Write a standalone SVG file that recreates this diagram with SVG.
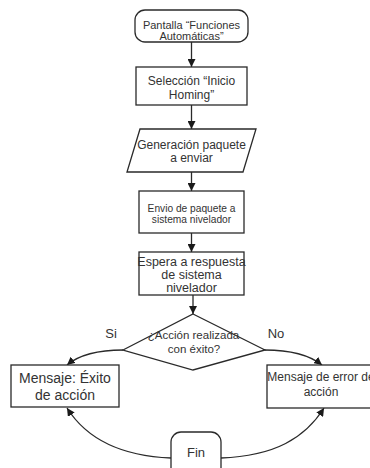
<svg xmlns="http://www.w3.org/2000/svg" width="370" height="468" viewBox="0 0 370 468">
<style>
.n{fill:#fff;stroke:#2a2a2a;stroke-width:1.3}
.t{font-family:"Liberation Sans",Arial,sans-serif;fill:#333;text-anchor:middle}
.c{fill:none;stroke:#2a2a2a;stroke-width:1.3}
</style>
<defs>
<marker id="ah" viewBox="0 0 10 10" refX="10" refY="5" markerWidth="8" markerHeight="8" markerUnits="userSpaceOnUse" orient="auto">
<path d="M0,0 L10,5 L0,10 z" fill="#1a1a1a"/>
</marker>
</defs>
<rect width="370" height="468" fill="#fff"/>
<g id="connectors">
<line class="c" x1="191.5" y1="42" x2="191.5" y2="67" marker-end="url(#ah)"/>
<line class="c" x1="191.5" y1="105" x2="191.5" y2="129" marker-end="url(#ah)"/>
<line class="c" x1="191.5" y1="172" x2="191.5" y2="191" marker-end="url(#ah)"/>
<line class="c" x1="191.5" y1="233" x2="191.5" y2="252" marker-end="url(#ah)"/>
<line class="c" x1="193" y1="295" x2="193" y2="314" marker-end="url(#ah)"/>
<path class="c" d="M123,350 Q85,350 67,365" marker-end="url(#ah)"/>
<path class="c" d="M265,350 Q303,350 322,365" marker-end="url(#ah)"/>
<path class="c" d="M171,458 C120,456 86,438 67,408" marker-end="url(#ah)"/>
<path class="c" d="M221,458 C275,456 305,438 324,408" marker-end="url(#ah)"/>
<text class="t" x="111" y="337.5" font-size="13">Si</text>
<text class="t" x="276" y="337.5" font-size="13">No</text>
</g>
<g id="n1">
<rect class="n" x="135" y="10" width="113" height="32" rx="10"/>
<text class="t" x="191.5" y="29" font-size="11">Pantalla “Funciones</text>
<text class="t" x="191.5" y="39.5" font-size="11">Automáticas”</text>
</g>
<g id="n2">
<rect class="n" x="136" y="67" width="111" height="38"/>
<text class="t" x="191.5" y="85" font-size="12">Selección “Inicio</text>
<text class="t" x="191.5" y="98.5" font-size="12">Homing”</text>
</g>
<g id="n3">
<polygon class="n" points="140,129 256,129 243,172 127,172"/>
<text class="t" x="191.5" y="149" font-size="12">Generación paquete</text>
<text class="t" x="191.5" y="161.5" font-size="12">a enviar</text>
</g>
<g id="n4">
<rect class="n" x="139" y="191" width="105" height="42"/>
<text class="t" x="191.5" y="211.5" font-size="10.2">Envio de paquete a</text>
<text class="t" x="191.5" y="222.5" font-size="10.2">sistema nivelador</text>
</g>
<g id="n5">
<rect class="n" x="139" y="252" width="105" height="43"/>
<text class="t" x="191.5" y="266" font-size="12.5">Espera a respuesta</text>
<text class="t" x="191.5" y="279" font-size="12.5">de sistema</text>
<text class="t" x="191.5" y="292" font-size="12.5">nivelador</text>
</g>
<g id="n6">
<polygon class="n" points="193,314 265,350 193,370 123,350"/>
<text class="t" x="193.5" y="339" font-size="11.5">¿Acción realizada</text>
<text class="t" x="194" y="353" font-size="11.5">con éxito?</text>
</g>
<g id="n7">
<rect class="n" x="11" y="365" width="108" height="42"/>
<text class="t" x="65" y="383" font-size="14">Mensaje: Éxito</text>
<text class="t" x="65" y="400" font-size="14">de acción</text>
</g>
<g id="n8">
<rect class="n" x="267" y="365" width="109" height="43"/>
<text class="t" x="321" y="381" font-size="12">Mensaje de error de</text>
<text class="t" x="321" y="396" font-size="12">acción</text>
</g>
<g id="n9">
<rect class="n" x="171" y="432" width="50" height="52" rx="10"/>
<text class="t" x="196" y="456.5" font-size="13">Fin</text>
</g>
</svg>
